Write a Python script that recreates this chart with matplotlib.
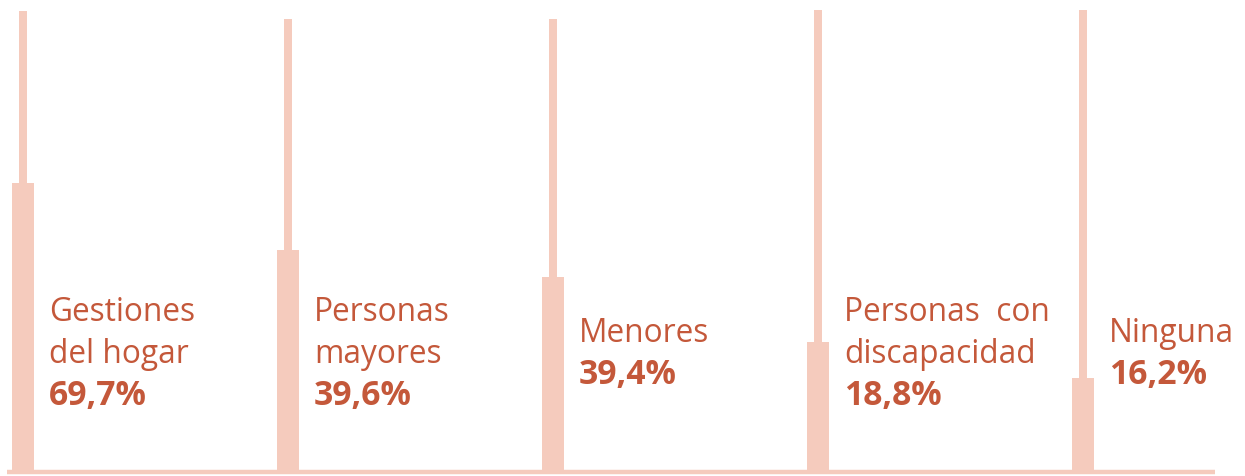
import matplotlib.pyplot as plt

# categories / labels
categories = ["Gestiones\ndel hogar", "Personas\nmayores", "Menores",
              "Personas  con\ndiscapacidad", "Ninguna"]
values = [69.7, 39.6, 39.4, 18.8, 16.2]          # printed percentages
bar_heights = [62.7, 48.2, 42.3, 28.2, 20.4]     # drawn bar heights (track = 100)
track_tops = [100.0, 98.3, 98.3, 100.2, 100.2]   # thin background tracks

bar_col = "#f5cbbd"
txt_col = "#c4583a"

W, H = 1245, 477
fig = plt.figure(figsize=(W / 100, H / 100), dpi=100)
ax = fig.add_axes([0, 0, 1, 1])

# scale: one category step = 265 px, 100 units = 461 px, baseline at 473 px from top
xstep = 265.0
ypx = 4.61
x0 = 23.0
ax.set_xlim(-x0 / xstep, (W - x0) / xstep)
ax.set_ylim(-(H - 473) / ypx, 473 / ypx)
ax.axis("off")

xs = list(range(len(categories)))

ax.bar(xs, track_tops, width=8 / xstep, color=bar_col, zorder=1)
ax.bar(xs, bar_heights, width=22 / xstep, color=bar_col, zorder=2)
ax.plot([-16 / xstep, 4.498], [-0.1, -0.1], color=bar_col, lw=3.2,
        solid_capstyle="butt", zorder=3)

line_px = 42
center_px = 350
for x, cat, v in zip(xs, categories, values):
    lines = cat.split("\n")
    n = len(lines) + 1
    base_px = center_px + (n - 1) * line_px / 2 + 13   # baseline of value
    tx = x + 26 / xstep
    ax.text(tx, (473 - base_px) / ypx, f"{v:.1f}%".replace(".", ","),
            family="Open Sans", fontweight="bold", fontsize=24.3,
            color=txt_col, va="baseline", ha="left")
    for k, ln in enumerate(reversed(lines)):
        yb = base_px - (k + 1) * line_px
        ax.text(tx, (473 - yb) / ypx, ln, family="Open Sans", fontsize=22.8,
                color=txt_col, va="baseline", ha="left")

fig.savefig("out.png", dpi=100, facecolor="white")
